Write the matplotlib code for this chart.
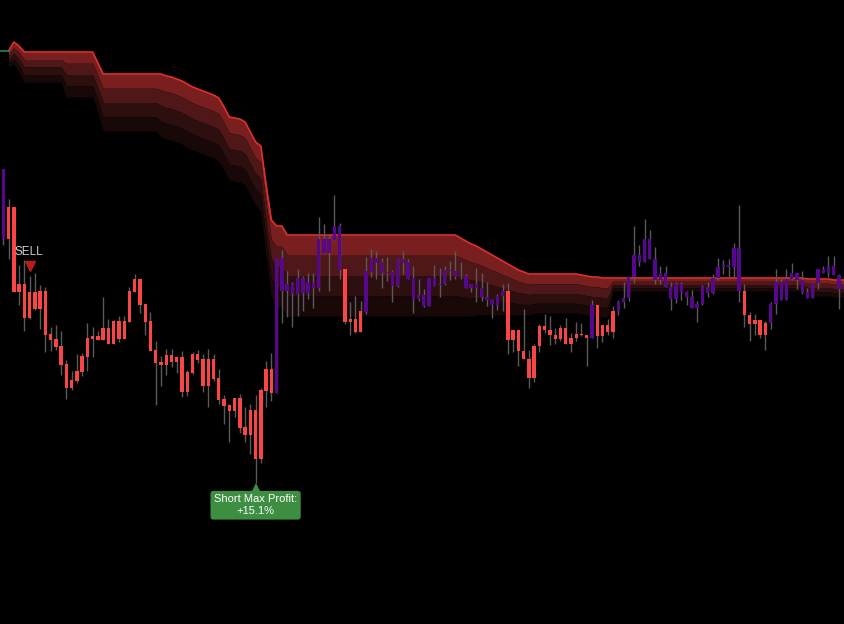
import numpy as np
import matplotlib.pyplot as plt

plt.rcParams["font.family"] = ["Liberation Sans", "DejaVu Sans"]

# OHLC, one value per bar
opens = [1381, 1311, 1343, 1258, 1266, 1232, 1258, 1241, 1259, 1216,
         1211, 1204, 1186, 1162, 1169, 1178, 1193, 1211, 1214, 1210,
         1222, 1206, 1229, 1211, 1228, 1258, 1271, 1246, 1229, 1200,
         1188, 1185, 1195, 1188, 1193, 1158, 1177, 1196, 1191, 1164,
         1191, 1172, 1151, 1145, 1139, 1152, 1123, 1115, 1140, 1091,
         1159, 1181, 1157, 1292, 1259, 1266, 1256, 1272, 1257, 1268,
         1262, 1311, 1297, 1310, 1324, 1281, 1228, 1231, 1218, 1238,
         1278, 1292, 1288, 1277, 1278, 1264, 1291, 1288, 1272, 1251,
         1255, 1244, 1272, 1265, 1266, 1280, 1279, 1273, 1274, 1262,
         1266, 1262, 1253, 1250, 1245, 1254, 1259, 1210, 1220, 1199,
         1191, 1172, 1204, 1224, 1220, 1215, 1211, 1222, 1206, 1212,
         1216, 1215, 1212, 1245, 1214, 1225, 1218, 1239, 1248, 1252,
         1273, 1295, 1288, 1311, 1291, 1270, 1277, 1263, 1251, 1266,
         1258, 1253, 1242, 1246, 1263, 1257, 1272, 1283, 1285, 1283,
         1302, 1259, 1235, 1226, 1230, 1215, 1227, 1246, 1268, 1250,
         1271, 1277, 1270, 1258, 1252, 1267, 1281, 1277, 1284, 1275,
         1261]
highs = [1381, 1351, 1343, 1285, 1290, 1274, 1277, 1265, 1263, 1223,
         1225, 1219, 1190, 1179, 1196, 1197, 1227, 1223, 1219, 1253,
         1231, 1230, 1234, 1234, 1263, 1276, 1271, 1246, 1238, 1209,
         1194, 1201, 1201, 1194, 1199, 1180, 1198, 1200, 1196, 1201,
         1196, 1181, 1155, 1146, 1152, 1156, 1143, 1146, 1155, 1162,
         1189, 1197, 1292, 1300, 1279, 1268, 1281, 1274, 1277, 1277,
         1333, 1326, 1316, 1355, 1327, 1281, 1248, 1254, 1249, 1293,
         1301, 1299, 1292, 1293, 1280, 1292, 1299, 1291, 1284, 1271,
         1261, 1272, 1285, 1282, 1284, 1289, 1299, 1288, 1276, 1266,
         1282, 1277, 1268, 1251, 1256, 1266, 1267, 1220, 1220, 1241,
         1200, 1206, 1226, 1236, 1234, 1222, 1225, 1232, 1217, 1228,
         1227, 1215, 1250, 1245, 1225, 1231, 1244, 1250, 1268, 1273,
         1324, 1305, 1331, 1320, 1303, 1284, 1284, 1268, 1268, 1268,
         1259, 1260, 1249, 1265, 1268, 1276, 1292, 1290, 1291, 1307,
         1345, 1266, 1238, 1236, 1230, 1229, 1248, 1281, 1271, 1281,
         1287, 1277, 1279, 1262, 1268, 1281, 1284, 1294, 1294, 1276,
         1274]
lows = [1305, 1291, 1258, 1245, 1219, 1231, 1240, 1221, 1198, 1199,
        1200, 1175, 1151, 1160, 1167, 1174, 1179, 1193, 1210, 1210,
        1206, 1206, 1208, 1211, 1228, 1258, 1237, 1215, 1199, 1145,
        1164, 1175, 1183, 1177, 1153, 1154, 1176, 1187, 1158, 1143,
        1169, 1146, 1126, 1108, 1133, 1117, 1108, 1096, 1067, 1087,
        1143, 1149, 1157, 1227, 1233, 1223, 1234, 1239, 1251, 1242,
        1259, 1297, 1259, 1310, 1271, 1226, 1215, 1217, 1218, 1236,
        1273, 1271, 1262, 1269, 1248, 1263, 1276, 1271, 1237, 1249,
        1243, 1244, 1264, 1253, 1265, 1270, 1271, 1271, 1262, 1258,
        1248, 1249, 1244, 1232, 1240, 1239, 1196, 1198, 1184, 1191,
        1162, 1168, 1198, 1217, 1205, 1206, 1209, 1206, 1198, 1209,
        1214, 1184, 1212, 1202, 1208, 1215, 1212, 1235, 1242, 1249,
        1267, 1284, 1288, 1291, 1266, 1266, 1263, 1240, 1247, 1250,
        1245, 1242, 1228, 1245, 1253, 1256, 1270, 1276, 1273, 1273,
        1248, 1223, 1209, 1215, 1212, 1200, 1221, 1236, 1250, 1250,
        1270, 1261, 1256, 1252, 1252, 1261, 1277, 1273, 1275, 1241,
        1259]
closes = [1311, 1343, 1258, 1266, 1232, 1258, 1241, 1259, 1215, 1210,
          1203, 1185, 1162, 1170, 1179, 1194, 1212, 1214, 1210, 1222,
          1206, 1229, 1211, 1229, 1259, 1271, 1245, 1228, 1199, 1187,
          1185, 1195, 1188, 1193, 1158, 1178, 1196, 1190, 1164, 1191,
          1171, 1150, 1144, 1139, 1152, 1122, 1115, 1140, 1091, 1160,
          1181, 1157, 1292, 1259, 1266, 1256, 1272, 1257, 1268, 1262,
          1311, 1297, 1311, 1324, 1280, 1228, 1231, 1218, 1239, 1279,
          1292, 1287, 1277, 1278, 1264, 1291, 1287, 1271, 1251, 1255,
          1244, 1272, 1264, 1266, 1280, 1279, 1273, 1274, 1262, 1266,
          1262, 1253, 1250, 1245, 1254, 1259, 1210, 1220, 1199, 1191,
          1172, 1204, 1224, 1220, 1215, 1211, 1222, 1206, 1212, 1216,
          1215, 1212, 1245, 1214, 1225, 1218, 1239, 1248, 1252, 1273,
          1295, 1288, 1311, 1291, 1270, 1277, 1263, 1251, 1266, 1258,
          1253, 1242, 1246, 1263, 1257, 1272, 1283, 1285, 1283, 1302,
          1259, 1235, 1226, 1230, 1215, 1227, 1246, 1268, 1250, 1271,
          1277, 1270, 1258, 1252, 1267, 1281, 1277, 1284, 1275, 1261,
          1265]

# bar colouring state: r = short (red), p = neutral (purple)
state = ("prrrrrrrrr" "rrrrrrrrrr" "rrrrrrrrrr" "rrrrrrrrrr" "rrrrrrrrrr"
         "rrpppppppp" "ppppprrrrp" "pppppppppp" "pppppppppp" "pppppprrrr"
         "rrrrrrrrrr" "rrprrrrppp" "pppppppppp" "pppppppppp" "prrrrrpppp"
         "pppppppppp" "p")

# short trailing stop (bar 1 onwards) and the cloud depth under it
short_stop = [1499, 1508, 1504, 1498, 1498, 1498, 1498, 1498, 1498, 1498,
              1498, 1498, 1498, 1498, 1498, 1498, 1498, 1487, 1476, 1476,
              1476, 1476, 1476, 1476, 1476, 1476, 1476, 1476, 1476, 1476,
              1474, 1473, 1471, 1469, 1466, 1463, 1461, 1459, 1457, 1455,
              1452, 1443, 1433, 1432, 1431, 1428, 1418, 1408, 1404, 1365,
              1330, 1324, 1324, 1315, 1315, 1315, 1315, 1315, 1315, 1315,
              1315, 1315, 1315, 1315, 1315, 1315, 1315, 1315, 1315, 1315,
              1315, 1315, 1315, 1315, 1315, 1315, 1315, 1315, 1315, 1315,
              1315, 1315, 1315, 1315, 1315, 1315, 1312, 1309, 1306, 1304,
              1301, 1298, 1295, 1292, 1289, 1286, 1283, 1280, 1278, 1276,
              1276, 1276, 1276, 1276, 1276, 1276, 1276, 1276, 1276, 1275,
              1274, 1273, 1273, 1272, 1272, 1272, 1272, 1272, 1272, 1272,
              1272, 1272, 1272, 1272, 1272, 1272, 1272, 1272, 1272, 1272,
              1272, 1272, 1272, 1272, 1272, 1272, 1272, 1272, 1272, 1272,
              1272, 1272, 1272, 1272, 1272, 1272, 1272, 1272, 1272, 1272,
              1272, 1272, 1271, 1271, 1271, 1271, 1271, 1270, 1270, 1270]
band_depth = [16, 22, 26, 30, 30, 30, 30, 30, 30, 30,
              30, 45, 45, 45, 45, 45, 45, 50, 57, 57,
              57, 57, 57, 57, 57, 57, 57, 57, 57, 63,
              63, 63, 63, 63, 63, 63, 63, 63, 63, 63,
              63, 63, 63, 63, 63, 63, 63, 63, 65, 72,
              78, 81, 81, 81, 81, 81, 81, 81, 81, 81,
              81, 81, 81, 81, 81, 81, 81, 81, 81, 81,
              81, 81, 81, 81, 81, 81, 81, 81, 81, 81,
              81, 81, 81, 81, 81, 81, 78, 75, 72, 69,
              66, 63, 60, 57, 54, 51, 48, 45, 43, 41,
              39, 39, 39, 39, 39, 39, 39, 39, 39, 39,
              39, 39, 39, 39, 39, 13, 13, 13, 13, 13,
              13, 13, 13, 13, 13, 13, 13, 13, 13, 13,
              13, 13, 13, 13, 13, 13, 13, 13, 13, 13,
              13, 13, 13, 13, 13, 13, 13, 13, 13, 13,
              13, 13, 17, 17, 17, 17, 17, 17, 17, 17]
long_stop = [1499, 1499, 1499]   # bars -1..1, before the flip

sell_bar = 5
profit_text = "Short Max Profit:\n+15.1%"

RED = "#f94545"
PURPLE = "#56078e"

fig = plt.figure(figsize=(8.45, 6.24), dpi=100, facecolor="black")
ax = fig.add_axes([0, 0, 1, 1])
ax.set_facecolor("black")

# trailing stop cloud
bx = np.arange(1, len(short_stop) + 1)
top = np.array(short_stop, dtype=float)
depth = np.array(band_depth, dtype=float)
layer_colors = ["#7a1f1f", "#4f1717", "#2e0f0f", "#190808"]
for k, col in enumerate(layer_colors):
    ax.fill_between(bx, top - depth * k / 4, top - depth * (k + 1) / 4,
                    color=col, lw=0, zorder=1)
ax.plot(bx, top, color="#e0302c", lw=1.2, zorder=1.5)
ax.plot(np.arange(-1, 2), long_stop, color="#25845c", lw=1.2, zorder=1.5)

# candles
o = np.array(opens, dtype=float)
c = np.array(closes, dtype=float)
x = np.arange(len(o))
colors = [RED if s == "r" else PURPLE for s in state]
ax.vlines(x, lows, highs, color="#5a5a5a", lw=1, zorder=2)
ax.bar(x, np.maximum(np.abs(c - o), 1), bottom=np.minimum(o, c), width=0.64,
       color=colors, lw=0, zorder=3)

# sell signal
ax.plot(sell_bar, highs[sell_bar] + 10, marker="v", ms=7, color="#b81d1d",
        zorder=4)
ax.text(sell_bar - 0.2, highs[sell_bar] + 24, "SELL", ha="center",
        va="center", color="#cccccc", fontsize=8.5, zorder=4)

# max profit callout
i_min = int(np.argmin(lows))
ax.plot(i_min, lows[i_min] - 4, marker="^", ms=6, color="#3e8e41", mew=0,
        zorder=4)
ax.annotate(profit_text, xy=(i_min, lows[i_min]), xytext=(0, -16),
            textcoords="offset points", ha="center", va="center",
            fontsize=8, color="white", zorder=5,
            bbox=dict(boxstyle="round,pad=0.32,rounding_size=0.25",
                      fc="#3e8e41", ec="none"))

ax.set_xlim(-0.63, 160.14)
ax.set_ylim(926, 1550)
ax.axis("off")

fig.savefig("out.png", dpi=100, facecolor="black")
